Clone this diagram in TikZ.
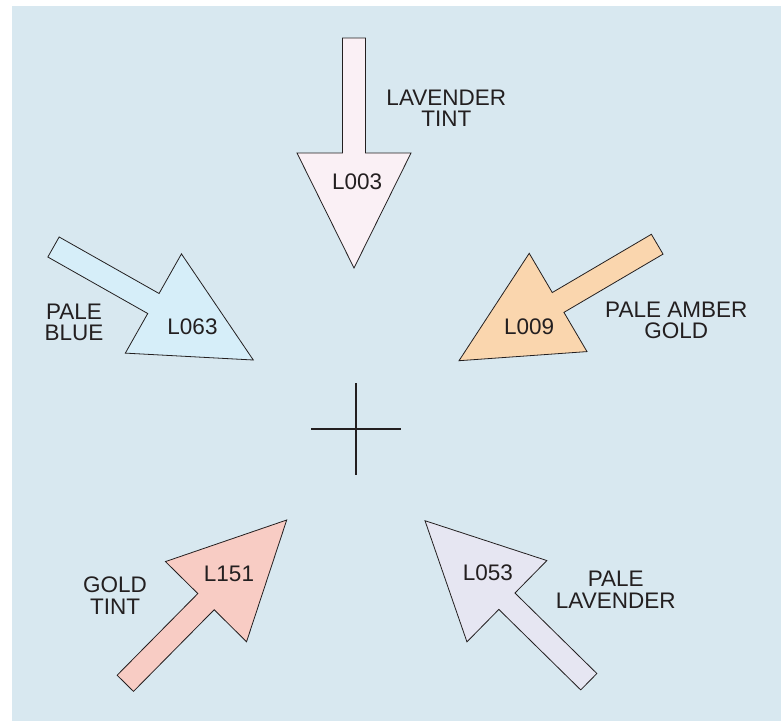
\documentclass[tikz,border=0pt]{standalone}
\usepackage{fontspec}
\setmainfont{Liberation Sans}
\usetikzlibrary{calc}
\definecolor{bgblue}{HTML}{D8E8F0}
\definecolor{txt}{HTML}{231F20}
\definecolor{cLthree}{HTML}{FAF0F5}
\definecolor{cLsixty}{HTML}{D6EEF9}
\definecolor{cLnine}{HTML}{FAD6AE}
\definecolor{cLone}{HTML}{F8CCC4}
\definecolor{cLfifty}{HTML}{E6E6F2}
\tikzset{
  lbl/.style={text=txt, font=\fontsize{22.5}{21.7}\selectfont, align=center, inner sep=0pt},
  arrowshape/.style={draw=txt, line width=0.8pt, line join=miter},
}
% #1 tail, #2 tip, #3 fill
\newcommand{\bigarrow}[3]{%
  \draw[arrowshape, fill=#3] (#2)
    -- ($($(#1)!0.5!(#2)$)!57pt!90:(#2)$)
    -- ($($(#1)!0.5!(#2)$)!11.5pt!90:(#2)$)
    -- ($(#1)!11.5pt!90:(#2)$)
    -- ($(#1)!11.5pt!-90:(#2)$)
    -- ($($(#1)!0.5!(#2)$)!11.5pt!-90:(#2)$)
    -- ($($(#1)!0.5!(#2)$)!57pt!-90:(#2)$)
    -- cycle;}
\begin{document}
\begin{tikzpicture}[x=1pt,y=-1pt]
\useasboundingbox (0,0) rectangle (781,721);
\fill[white] (0,0) rectangle (781,721);
\fill[bgblue] (12,6) rectangle (781,721);

% arrow end points
\coordinate (aT) at (354,38);    \coordinate (aP) at (354,268);
\coordinate (bT) at (53.5,247);  \coordinate (bP) at (253.3,360);
\coordinate (cT) at (657.2,244.2); \coordinate (cP) at (459,360.7);
\coordinate (dT) at (125.3,683.3); \coordinate (dP) at (286.7,520);
\coordinate (eT) at (588.8,681.7); \coordinate (eP) at (425,520.7);

\bigarrow{aT}{aP}{cLthree}
\bigarrow{bT}{bP}{cLsixty}
\bigarrow{cT}{cP}{cLnine}
\bigarrow{dT}{dP}{cLone}
\bigarrow{eT}{eP}{cLfifty}

% cross
\coordinate (xl) at (311,429); \coordinate (xr) at (401,429);
\coordinate (xt) at (356,383); \coordinate (xb) at (356,475);
\draw[txt, line width=2pt] (xl) -- (xr);
\draw[txt, line width=2pt] (xt) -- (xb);

% codes
\node[lbl] (n003) at (357.2,181.3) {L003};
\node[lbl] (n063) at (192.5,326.7) {L063};
\node[lbl] (n009) at (529.2,326.7) {L009};
\node[lbl] (n151) at (229,573.5) {L151};
\node[lbl] (n053) at (487.8,572.5) {L053};

% names
\node[lbl] (t003) at (446.3,108.3) {LAVENDER\\TINT};
\node[lbl] (t063) at (74,322.5) {PALE\\BLUE};
\node[lbl] (t009) at (676.3,320.3) {PALE AMBER\\GOLD};
\node[lbl] (t151) at (115,595.5) {GOLD\\TINT};
\node[lbl] (t053) at (615.7,589.5) {PALE\\LAVENDER};
\end{tikzpicture}
\end{document}
